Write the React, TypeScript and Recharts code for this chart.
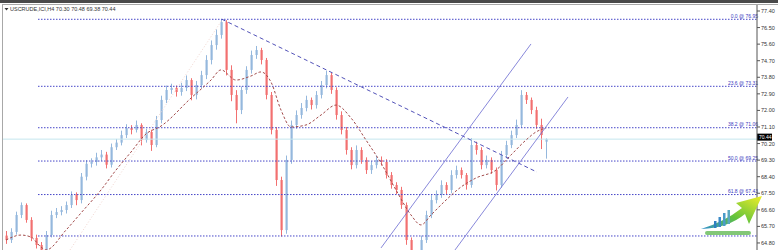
import React from 'react'
import { ComposedChart, Bar, Line, XAxis, YAxis, ReferenceLine } from 'recharts'

// H4 bars (one slot = ~5px on screen)
const opens = [
  65.20, 64.96, 65.40, 66.32, 66.86, 66.05, 65.07, 64.69, 64.42, 65.23,
  66.32, 66.48, 66.59, 66.86, 67.41, 67.13, 68.40, 69.10, 69.20, 69.45,
  69.60, 69.05, 70.00, 70.25, 70.66, 71.04, 70.94, 71.21, 70.39, 70.83,
  70.12, 71.48, 72.57, 73.11, 73.22, 73.00, 73.22, 73.65, 72.84, 73.38,
  73.92, 74.74, 75.55, 76.10, 76.80, 74.20, 72.84, 72.02, 73.11, 74.20,
  75.01, 75.28, 74.74, 72.84, 70.94, 68.22, 65.50, 69.31, 71.21, 71.75,
  72.13, 72.57, 72.29, 72.84, 73.38, 73.92, 73.11, 71.75, 70.94, 69.85,
  69.03, 69.85, 69.31, 68.76, 69.03, 69.31, 69.20, 68.49, 67.95, 67.68,
  66.86, 64.96, 64.15, 64.15, 64.96, 66.32, 67.13, 67.41, 67.95, 67.68,
  68.49, 68.76, 68.49, 67.95, 70.12, 69.85, 69.03, 69.31, 68.76, 67.95,
  69.58, 70.12, 70.66, 71.21, 72.84, 72.57, 72.02, 71.21, 70.30,
]
const highs = [
  65.45, 65.60, 66.50, 67.00, 66.95, 66.20, 65.25, 64.85, 65.45, 66.55,
  66.70, 66.80, 67.05, 67.60, 67.55, 68.60, 69.30, 69.40, 69.70, 69.85,
  69.75, 70.20, 70.45, 70.90, 71.25, 71.20, 71.45, 71.30, 71.00, 70.95,
  71.70, 72.80, 73.35, 73.45, 73.35, 73.50, 73.90, 73.75, 73.60, 74.15,
  75.00, 75.80, 76.40, 76.95, 76.90, 74.45, 73.10, 73.30, 74.40, 75.25,
  75.50, 75.40, 74.85, 73.00, 71.10, 68.40, 69.55, 71.45, 72.00, 72.40,
  72.80, 72.70, 73.05, 73.60, 74.15, 74.05, 73.25, 71.95, 71.10, 70.00,
  70.10, 70.00, 69.45, 69.25, 69.55, 69.50, 69.35, 68.65, 68.10, 67.85,
  67.00, 65.10, 64.40, 65.20, 66.55, 67.40, 67.65, 68.20, 68.10, 68.75,
  69.00, 68.90, 68.60, 70.50, 70.30, 70.00, 69.55, 69.45, 68.90, 69.80,
  70.35, 70.90, 71.50, 73.10, 73.00, 72.70, 72.20, 71.55, 70.48,
]
const lows = [
  64.75, 64.80, 65.25, 66.15, 65.90, 64.90, 64.50, 64.20, 64.30, 65.10,
  66.15, 66.30, 66.40, 66.70, 66.85, 66.95, 68.20, 68.90, 69.00, 69.25,
  68.85, 68.90, 69.85, 70.10, 70.50, 70.70, 70.80, 70.10, 70.25, 69.80,
  70.00, 71.30, 72.40, 72.90, 72.75, 72.80, 73.05, 72.55, 72.60, 73.20,
  73.70, 74.50, 75.30, 75.90, 73.90, 72.50, 71.30, 71.80, 72.90, 74.00,
  74.80, 74.50, 72.60, 70.70, 67.90, 65.15, 65.30, 69.10, 71.00, 71.55,
  71.95, 72.05, 72.10, 72.65, 73.20, 72.90, 71.50, 70.70, 69.60, 68.80,
  68.85, 69.10, 68.55, 68.55, 68.85, 69.00, 68.30, 67.75, 67.45, 66.65,
  64.70, 63.90, 63.85, 63.95, 64.80, 66.15, 66.95, 67.25, 67.45, 67.50,
  68.30, 68.30, 67.70, 67.80, 69.60, 68.80, 68.85, 68.55, 67.65, 67.80,
  69.40, 69.95, 70.50, 71.05, 72.35, 71.80, 71.00, 69.90, 69.38,
]
const closes = [
  64.96, 65.40, 66.32, 66.86, 66.05, 65.07, 64.69, 64.42, 65.23, 66.32,
  66.48, 66.59, 66.86, 67.41, 67.13, 68.40, 69.10, 69.20, 69.45, 69.60,
  69.05, 70.00, 70.25, 70.66, 71.04, 70.94, 71.21, 70.39, 70.83, 70.12,
  71.48, 72.57, 73.11, 73.22, 73.00, 73.22, 73.65, 72.84, 73.38, 73.92,
  74.74, 75.55, 76.10, 76.80, 74.20, 72.84, 72.02, 73.11, 74.20, 75.01,
  75.28, 74.74, 72.84, 70.94, 68.22, 65.50, 69.31, 71.21, 71.75, 72.13,
  72.57, 72.29, 72.84, 73.38, 73.92, 73.11, 71.75, 70.94, 69.85, 69.03,
  69.85, 69.31, 68.76, 69.03, 69.31, 69.20, 68.49, 67.95, 67.68, 66.86,
  64.96, 64.15, 64.15, 64.96, 66.32, 67.13, 67.41, 67.95, 67.68, 68.49,
  68.76, 68.49, 67.95, 70.12, 69.85, 69.03, 69.31, 68.76, 67.95, 69.58,
  70.12, 70.66, 71.21, 72.84, 72.57, 72.02, 71.21, 70.66, 70.44,
]

// moving average, sampled where it could be read
const maIdx = [0, 3, 5, 7, 8, 12, 15, 19, 22, 25, 28, 31, 37, 41, 43, 46, 49, 51, 53, 55, 57, 60, 63, 66, 69, 72, 75, 78, 81, 83, 85, 88, 91, 94, 98, 101, 104, 106, 108]
const maVal = [64.96, 65.23, 65.12, 64.58, 64.42, 65.50, 66.43, 67.68, 68.76, 69.74, 70.72, 71.15, 72.67, 73.65, 74.20, 73.65, 73.87, 74.09, 73.54, 72.02, 71.10, 71.21, 71.75, 72.29, 71.59, 70.39, 69.14, 67.68, 66.32, 65.78, 66.32, 67.13, 67.84, 68.33, 68.76, 69.58, 70.39, 70.83, 71.04]

const fibLevels = [76.95, 73.31, 71.06, 69.25, 67.43, 65.18]
const fibLabels = ['0.0 @ 76.95', '23.6 @ 73.31', '38.2 @ 71.06', '50.0 @ 69.25', '61.8 @ 67.43', '']
const yTicks = [64.8, 65.7, 66.6, 67.5, 68.4, 69.3, 70.2, 71.1, 72.0, 72.9, 73.8, 74.7, 75.6, 76.5, 77.4]
const lastPrice = 70.44
const header = 'USCRUDE,ICI,H4  70.30 70.48 69.38 70.44'

// drawing objects: [bar index, price]
const downTrend = [[43.2, 76.95], [106.2, 68.65]]
const channelUpper = [[75, 64.53], [105, 75.61]]
const channelLower = [[89.8, 64.42], [112.4, 72.73]]
const faintLine = [[12.8, 64.42], [43.2, 76.91]]

const data = closes.map((c, i) => ({
  i,
  open: opens[i],
  high: highs[i],
  low: lows[i],
  close: c,
  range: [lows[i], highs[i]],
  ma: undefined as number | undefined,
}))
maIdx.forEach((idx, k) => {
  data[idx].ma = maVal[k]
})

const FONT = '"Liberation Sans", Arial, sans-serif'

const Candle = (props: any) => {
  const { x, y, width, height, payload } = props
  if (x == null || y == null) return null
  const top = Math.min(y, y + height)
  const h = Math.abs(height)
  const { open, close, high, low } = payload
  const up = close >= open
  const color = up ? '#95b8dd' : '#f27070'
  const k = h / (high - low || 1)
  const cx = Math.round(x + width / 2) + 0.5
  const bTop = top + (high - Math.max(open, close)) * k
  const bH = Math.max(1, Math.abs(close - open) * k)
  return (
    <g>
      <line x1={cx} x2={cx} y1={top} y2={top + h} stroke={color} strokeWidth={1} />
      <rect x={cx - 1} y={bTop} width={2.2} height={bH} fill={color} />
    </g>
  )
}

const FibLabel = ({ viewBox, text }: any) => {
  if (!viewBox || !text) return null
  return (
    <text x={viewBox.x + viewBox.width + 1} y={viewBox.y - 1.5} textAnchor="end" fontSize={5} fill="#3a3ac0" fontFamily={FONT}>
      {text}
    </text>
  )
}

const PriceTag = ({ viewBox }: any) => {
  if (!viewBox) return null
  const x = viewBox.x + viewBox.width
  return (
    <g>
      <rect x={x} y={viewBox.y - 5.5} width={15} height={7} fill="#000" />
      <text x={x + 2} y={viewBox.y - 0.2} fontSize={5} fill="#fff" fontFamily={FONT}>
        {lastPrice.toFixed(2)}
      </text>
    </g>
  )
}

const seg = (p: number[][]) => [
  { x: p[0][0], y: p[0][1] },
  { x: p[1][0], y: p[1][1] },
]

export default function App() {
  return (
    <div style={{ position: 'absolute', left: 0, top: 0, width: 778, height: 250, background: '#fff', overflow: 'hidden' }}>
      <ComposedChart width={778} height={250} data={data} margin={{ top: 5, right: 0, bottom: 0, left: 3 }}>
        <XAxis type="number" dataKey="i" domain={[-0.6, 150.2]} hide allowDataOverflow />
        <YAxis
          orientation="right"
          width={21}
          domain={[64.418, 77.726]}
          ticks={yTicks}
          allowDataOverflow
          interval={0}
          tickFormatter={(v: number) => v.toFixed(2)}
          tick={{ fontSize: 5.5, fill: '#333', fontFamily: FONT }}
          tickSize={3}
          tickMargin={1}
          axisLine={{ stroke: '#555' }}
          tickLine={{ stroke: '#555' }}
        />
        <ReferenceLine y={lastPrice} stroke="#c4e6ee" strokeWidth={1} label={<PriceTag />} />
        {fibLevels.map((lv, k) => (
          <ReferenceLine
            key={lv}
            segment={[{ x: 6.4, y: lv }, { x: 150.2, y: lv }]}
            stroke="#4646c8"
            strokeDasharray="1.5 1.5"
            strokeWidth={1}
            ifOverflow="visible"
            label={<FibLabel text={fibLabels[k]} />}
          />
        ))}
        <ReferenceLine segment={seg(faintLine)} stroke="#f1d6d0" strokeDasharray="1 2" ifOverflow="visible" />
        <Bar dataKey="range" barSize={4} shape={<Candle />} isAnimationActive={false} />
        <Line
          dataKey="ma"
          type="monotone"
          stroke="#a24a4a"
          strokeWidth={1}
          strokeDasharray="2.5 2"
          dot={false}
          connectNulls
          isAnimationActive={false}
        />
        <ReferenceLine segment={seg(downTrend)} stroke="#5252b8" strokeDasharray="4 3" ifOverflow="visible" />
        <ReferenceLine segment={seg(channelUpper)} stroke="#6a6ad0" strokeWidth={0.8} ifOverflow="visible" />
        <ReferenceLine segment={seg(channelLower)} stroke="#6a6ad0" strokeWidth={0.8} ifOverflow="visible" />
      </ComposedChart>

      <svg width={778} height={250} style={{ position: 'absolute', left: 0, top: 0, pointerEvents: 'none' }}>
        <defs>
          <linearGradient id="logoHead" x1="0" y1="1" x2="1" y2="0">
            <stop offset="0" stopColor="#2e8fd0" />
            <stop offset="0.45" stopColor="#62c23c" />
            <stop offset="1" stopColor="#f0ee2a" />
          </linearGradient>
        </defs>
        <rect x={0} y={0} width={778} height={3} fill="#4a4a4a" />
        <line x1={2} x2={778} y1={4.5} y2={4.5} stroke="#a8a8a8" />
        <line x1={2.5} x2={2.5} y1={4} y2={250} stroke="#a8a8a8" />
        <path d="M4.5 8 L8.5 8 L6.5 10.5 Z" fill="#333" />
        <text x={10} y={10.5} fontSize={5.5} fill="#333" fontFamily={FONT}>
          {header}
        </text>
        <g>
          <path d="M701 229 Q724 222 742 208 L736 203 L762 196 L749 224 L745 214 Q728 228 701 229 Z" fill="url(#logoHead)" />
          <rect x={714} y={221} width={2.5} height={7} fill="#2f7fc0" />
          <rect x={718.5} y={217} width={2.5} height={10} fill="#3a8ac6" />
          <rect x={723} y={213} width={2.5} height={13} fill="#4b9bc8" />
          <rect x={727.5} y={210} width={2.5} height={14} fill="#5aa8c0" />
          <rect x={705} y={231} width={46} height={4} rx={2} fill="#58b44a" opacity={0.75} />
        </g>
      </svg>
    </div>
  )
}
